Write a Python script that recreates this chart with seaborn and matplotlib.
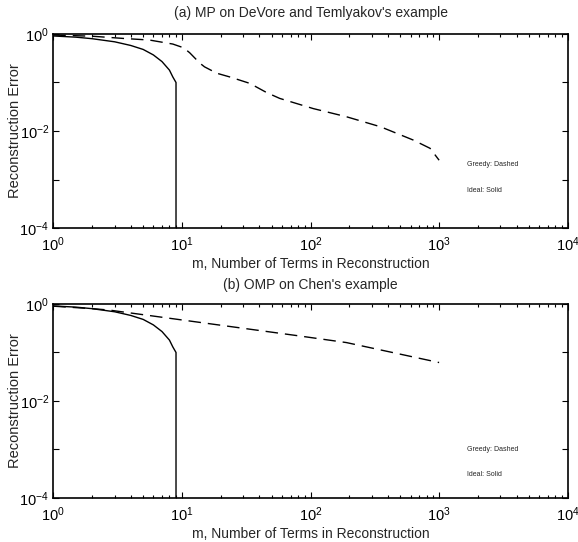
import numpy as np
import pandas as pd
import matplotlib
matplotlib.use("Agg")
import matplotlib.pyplot as plt
import matplotlib.ticker as mticker
import seaborn as sns

# ---- data ----
ideal_m = [1, 1.5, 2, 3, 4, 5, 6, 7, 8, 8.5, 9, 9]
ideal_err = [0.91, 0.86, 0.8, 0.69, 0.58, 0.48, 0.37, 0.27, 0.18, 0.13, 0.1, 1e-6]

greedy_a_m = [1, 2, 3.5, 5.6, 8.5, 10.3, 11.5, 13.8, 15, 18.7, 23.6, 33.7, 45.6,
              57.6, 105, 190, 351, 630, 850, 1000]
greedy_a_err = [0.95, 0.9, 0.81, 0.75, 0.62, 0.52, 0.41, 0.25, 0.21, 0.155, 0.13,
                0.096, 0.062, 0.047, 0.029, 0.0197, 0.0122, 0.0065, 0.0044, 0.0025]

greedy_b_m = [1, 2, 2.7, 13.5, 81, 190, 1000]
greedy_b_err = [0.9, 0.8, 0.75, 0.42, 0.22, 0.16, 0.062]

titles = ["(a) MP on DeVore and Temlyakov's example", "(b) OMP on Chen's example"]
xlabel = "m, Number of Terms in Reconstruction"
ylabel = "Reconstruction Error"
legend_texts = ["Greedy: Dashed", "Ideal: Solid"]

sns.set_style("ticks")
plt.rcParams["font.family"] = ["Liberation Sans", "DejaVu Sans"]
plt.rcParams["mathtext.fontset"] = "custom"
plt.rcParams["mathtext.rm"] = "Liberation Sans"
plt.rcParams["mathtext.it"] = "Liberation Sans:italic"

fig = plt.figure(figsize=(5.78, 5.42), dpi=100)
ax_a = fig.add_axes([0.0922, 0.5793, 0.890, 0.358])
ax_b = fig.add_axes([0.0922, 0.0812, 0.890, 0.358])

greedy_sets = [(greedy_a_m, greedy_a_err), (greedy_b_m, greedy_b_err)]
legend_y = [(0.002, 6e-4), (0.001, 3e-4)]
title_pads = [12, 10.5]

for ax, title, (gm, ge), (ly1, ly2), tp in zip([ax_a, ax_b], titles, greedy_sets,
                                                legend_y, title_pads):
    df_ideal = pd.DataFrame({"m": ideal_m, "err": ideal_err})
    df_greedy = pd.DataFrame({"m": gm, "err": ge})
    sns.lineplot(data=df_ideal, x="m", y="err", ax=ax, color="black", lw=1.0,
                 estimator=None, sort=False)
    sns.lineplot(data=df_greedy, x="m", y="err", ax=ax, color="black", lw=1.0,
                 estimator=None, sort=False, linestyle=(0, (9, 5)))
    ax.set_xscale("log")
    ax.set_yscale("log")
    ax.set_xlim(1, 1e4)
    ax.set_ylim(1e-4, 1)
    ax.xaxis.set_major_locator(mticker.FixedLocator([1, 10, 100, 1000, 10000]))
    ax.set_xticklabels([r"$10^{0}$", r"$10^{1}$", r"$10^{2}$", r"$10^{3}$", r"$10^{4}$"])
    ax.xaxis.set_minor_locator(mticker.LogLocator(base=10, subs=np.arange(2, 10), numticks=20))
    ax.xaxis.set_minor_formatter(mticker.NullFormatter())
    ax.yaxis.set_major_locator(mticker.FixedLocator([1e-4, 1e-3, 1e-2, 1e-1, 1]))
    ax.set_yticklabels([r"$10^{-4}$", "", r"$10^{-2}$", "", r"$10^{0}$"])
    ax.yaxis.set_minor_locator(mticker.NullLocator())
    ax.tick_params(which="both", direction="in", top=True, right=True, colors="black",
                   labelsize=10.5, width=0.8)
    ax.tick_params(which="major", length=4)
    ax.tick_params(axis="x", which="major", pad=5.5)
    ax.tick_params(axis="y", which="major", pad=3)
    ax.tick_params(which="minor", length=2.5)
    for s in ax.spines.values():
        s.set_visible(True)
        s.set_linewidth(1.2)
        s.set_color("black")
    ax.set_title(title, fontsize=10, pad=tp)
    ax.set_xlabel(xlabel, fontsize=10, labelpad=2)
    ax.set_ylabel(ylabel, fontsize=10.5)
    ax.yaxis.set_label_coords(-0.06, 0.5)
    ax.text(1650, ly1, legend_texts[0], fontsize=5, va="center", ha="left")
    ax.text(1650, ly2, legend_texts[1], fontsize=5, va="center", ha="left")

fig.savefig("out.png", dpi=100)
